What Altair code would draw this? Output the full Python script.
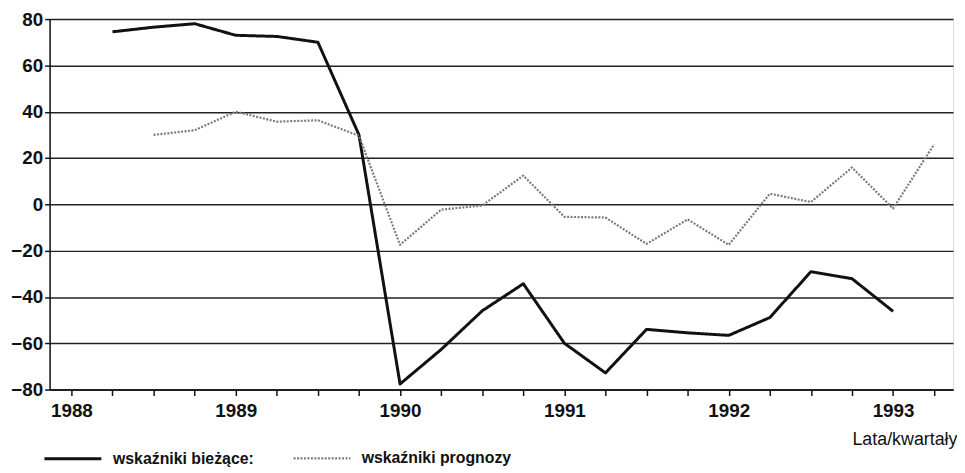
import altair as alt
import pandas as pd

# quarter index: 0 = 1988 (first labelled tick), 4 = 1989, ... 20 = 1993
quarters = list(range(22))
year_labels = ["1988", "1989", "1990", "1991", "1992", "1993"]
series_names = ["wskaźniki bieżące:", "wskaźniki prognozy"]

biezace = [None, 74.5, 76.5, 78, 73, 72.5, 70, 30, -77.6, -62.7, -46, -34.3,
           -60, -72.8, -54, -55.5, -56.6, -48.9, -29.1, -32.1, -46.2, None]
prognozy = [None, None, 30, 32, 40, 35.7, 36.3, 29.6, -17.5, -2.3, -0.5, 12.4,
            -5.4, -5.7, -17.1, -6.5, -17.5, 4.6, 1, 15.9, -1.8, 25.9]

rows = []
for name, vals in zip(series_names, [biezace, prognozy]):
    for q, v in zip(quarters, vals):
        if v is not None:
            rows.append({"q": q, "v": v, "s": name})
df = pd.DataFrame(rows)

FONT = "Liberation Sans, Arial, sans-serif"
W, H = 912, 374

label_expr = ("datum.value % 4 == 0 ? " + str(year_labels).replace("'", '"') +
              "[datum.value / 4] : ''")

legend_cfg = dict(
    orient="none", legendX=-7, legendY=413, direction="horizontal", title=None,
    symbolType="stroke", symbolSize=3300, symbolStrokeWidth=2.6,
    labelFontSize=16, labelFont=FONT, labelFontWeight="bold", labelColor="#111",
    labelOffset=10, columnPadding=34, labelLimit=300,
)

chart = alt.Chart(df).mark_line(strokeJoin="round").encode(
    x=alt.X("q:Q",
            scale=alt.Scale(domain=[-0.53, 21.46], nice=False, zero=False),
            axis=alt.Axis(values=quarters, labelExpr=label_expr, grid=False,
                          tickSize=6, tickColor="#111", tickWidth=1.5,
                          domainColor="#111", domainWidth=1.5,
                          labelFontSize=19, labelFont=FONT, labelFontWeight="bold",
                          labelColor="#111",
                          labelPadding=6, labelFlush=False, labelOverlap=False,
                          title="Lata/kwartały", titleFont=FONT, titleFontSize=18,
                          titleFontWeight="normal", titleColor="#111",
                          titleX=W + 4, titleY=55, titleAlign="right",
                          titleBaseline="alphabetic")),
    y=alt.Y("v:Q",
            scale=alt.Scale(domain=[-80, 80], nice=False),
            axis=alt.Axis(values=list(range(-80, 81, 20)), grid=True,
                          gridColor="#222", gridWidth=1.5,
                          tickSize=5, tickColor="#111", tickWidth=1.5,
                          domainColor="#111", domainWidth=1.5,
                          labelFontSize=19, labelFont=FONT, labelFontWeight="bold",
                          labelColor="#111", labelPadding=2, title=None)),
    color=alt.Color("s:N", scale=alt.Scale(domain=series_names, range=["#111111", "#7a7a7a"]),
                    legend=alt.Legend(**legend_cfg)),
    strokeDash=alt.StrokeDash("s:N", scale=alt.Scale(domain=series_names, range=[[1, 0], [2, 1.5]]),
                              legend=alt.Legend(**legend_cfg)),
    strokeWidth=alt.StrokeWidth("s:N", scale=alt.Scale(domain=series_names, range=[3, 2.2]),
                                legend=None),
).properties(
    width=W, height=H,
    padding={"left": 2, "top": 0, "right": 0, "bottom": 0},
).configure_view(
    stroke="#111", strokeWidth=1.5
).configure(background="white")

chart.save("out.html", embed_options={"renderer": "svg", "actions": False})
